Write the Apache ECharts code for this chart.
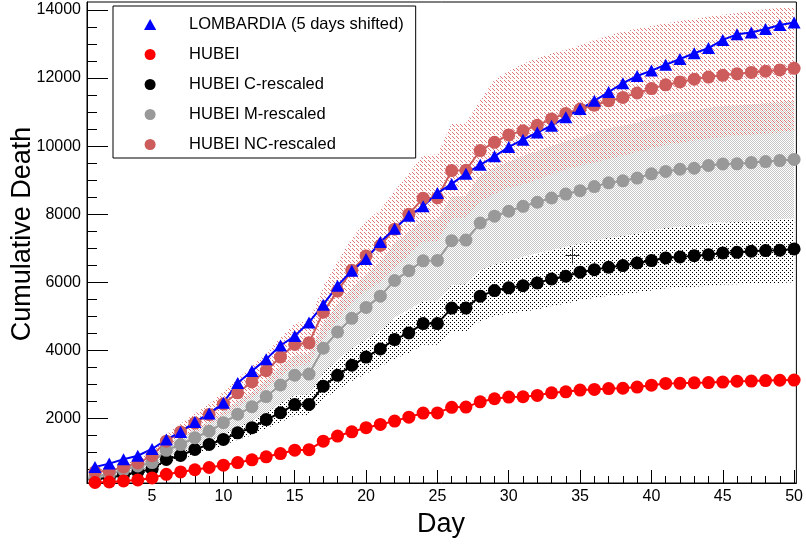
<!DOCTYPE html>
<html><head><meta charset="utf-8">
<script src="https://cdn.jsdelivr.net/npm/echarts@6/dist/echarts.min.js"></script>
<style>html,body{margin:0;padding:0;background:#fff}#chart{width:806px;height:547px}</style>
</head><body><div id="chart"></div>
<script>
const days = [1,2,3,4,5,6,7,8,9,10,11,12,13,14,15,16,17,18,19,20,21,22,23,24,25,26,27,28,29,30,31,32,33,34,35,36,37,38,39,40,41,42,43,44,45,46,47,48,49,50];
const lombardia = [570,670,800,900,1100,1375,1600,1895,2140,2460, 3040,3390,3740,4140,4420,4820,5340,5900,6340,6680, 7180,7570,7950,8230,8620,8890,9190,9450,9700,9975, 10190,10400,10600,10850,11090,11330,11590,11850,12060,12220, 12390,12560,12730,12880,13120,13285,13340,13440,13560,13630];
const hubei = [115,130,160,190,250,355,425,490,555,625, 700,780,870,965,1065,1080,1330,1480,1605,1725, 1820,1920,2035,2155,2160,2325,2330,2485,2575,2625, 2635,2675,2750,2780,2830,2850,2875,2885,2920,2975, 3025,3030,3045,3050,3065,3090,3095,3110,3120,3125];
const hubeiC = [210,255,335,425,505,790,910,1085,1235,1380, 1575,1725,1965,2165,2405,2410,2945,3265,3560,3800, 4040,4315,4510,4785,4785,5240,5240,5590,5755,5835, 5900,5980,6095,6175,6295,6370,6440,6490,6565,6635, 6715,6745,6780,6810,6860,6880,6910,6930,6940,6980];
const hubeiM = [300,350,480,600,700,1060,1230,1430,1620,1870, 2120,2340,2640,2980,3270,3300,4060,4540,4940,5260, 5590,6050,6340,6630,6640,7220,7240,7740,7940,8085, 8230,8350,8475,8590,8690,8810,8920,8980,9060,9185, 9255,9320,9350,9430,9475,9480,9515,9545,9575,9610];
const hubeiNC = [430,450,570,690,900,1330,1600,1860,2110,2420, 2750,3070,3400,3800,4170,4220,5120,5740,6350,6770, 7080,7560,8000,8470,8480,9280,9290,9870,10110,10330, 10450,10610,10800,10960,11090,11200,11330,11430,11560,11690, 11800,11885,11965,12030,12080,12125,12165,12200,12240,12285];

const bandCLow = [180,220,290,370,440,690,790,940,1070,1200, 1370,1500,1710,1880,2090,2100,2560,2840,3100,3310, 3520,3750,3920,4160,4160,4560,4560,4860,5010,5080, 5130,5200,5300,5370,5480,5540,5600,5640,5700,5760, 5820,5840,5870,5890,5930,5940,5960,5970,5980,6000];
const bandCHigh = [240,290,380,480,580,900,1040,1240,1410,1570, 1800,1970,2240,2470,2740,2750,3360,3720,4060,4330, 4610,4920,5140,5450,5450,5970,5970,6370,6560,6650, 6720,6810,6940,7030,7160,7240,7320,7370,7450,7520, 7610,7640,7670,7700,7750,7770,7800,7820,7830,7880];
const bandMLow = [250,290,390,490,570,870,1010,1170,1330,1530, 1740,1920,2160,2440,2680,2710,3330,3720,4050,4310, 4580,4960,5200,5440,5440,5920,5940,6350,6510,6630, 6750,6850,6950,7040,7130,7220,7310,7360,7430,7530, 7590,7640,7670,7730,7770,7770,7800,7830,7850,7880];
const bandMHigh = [350,410,570,710,830,1250,1450,1690,1910,2210, 2500,2760,3120,3520,3860,3890,4790,5360,5830,6210, 6600,7140,7480,7820,7840,8520,8540,9130,9370,9540, 9710,9850,10000,10140,10250,10400,10530,10600,10690,10840, 10920,11000,11030,11130,11180,11190,11230,11260,11300,11340];
const bandNCLow = [370,380,490,590,770,1130,1360,1580,1790,2060, 2340,2610,2890,3230,3540,3590,4350,4880,5400,5750, 6020,6430,6800,7200,7210,7890,7900,8390,8590,8780, 8880,9020,9180,9320,9430,9520,9630,9720,9830,9940, 10030,10100,10170,10230,10270,10310,10340,10370,10400,10440];
const bandNCHigh = [500,520,660,790,1040,1530,1840,2140,2430,2780, 3160,3530,3910,4370,4800,4850,5890,6600,7300,7790, 8140,8690,9200,9740,9750,10670,10680,11350,11950,12200, 12420,12580,12720,12830,12970,13120,13250,13360,13450,13530, 13610,13680,13740,13800,13860,13910,13960,14020,14060,14100];

const crossPoint = [34.45, 6810];

const xMajorTicks = [5,10,15,20,25,30,35,40,45,50];
const yMajorTicks = [2000,4000,6000,8000,10000,12000,14000];
const xMinorTicks = []; for (let d = 1; d <= 50; d++) xMinorTicks.push(d);
const yMinorTicks = []; for (let v = 500; v <= 14000; v += 500) yMinorTicks.push(v);

const names = ['LOMBARDIA (5 days shifted)','HUBEI','HUBEI C-rescaled','HUBEI M-rescaled','HUBEI NC-rescaled'];

const FONT = 'Liberation Sans, Arial, Helvetica, sans-serif';

function makePattern(w, h, color, rects) {
  const c = document.createElement('canvas');
  c.width = w; c.height = h;
  const ctx = c.getContext('2d');
  ctx.fillStyle = color;
  rects.forEach(p => ctx.fillRect(p[0], p[1], p[2] || 1, p[3] || 1));
  return { image: c, repeat: 'repeat' };
}
const patNC = makePattern(4, 4, 'rgb(225,120,120)', [[0,0],[1,1],[2,2]]);
const patM = makePattern(2, 2, 'rgb(200,200,200)', [[0,0],[1,1]]);
const patC = makePattern(4, 4, 'rgb(0,0,0)', [[0,0],[2,2]]);

function bandSeries(lo, hi, pattern) {
  return {
    type: 'custom', xAxisIndex: 0, yAxisIndex: 0, silent: true, z: 1,
    data: [[days[0], lo[0]]],
    renderItem: function (params, api) {
      const pts = [];
      for (let i = 0; i < days.length; i++) pts.push(api.coord([days[i], hi[i]]));
      for (let i = days.length - 1; i >= 0; i--) pts.push(api.coord([days[i], lo[i]]));
      return { type: 'polygon', shape: { points: pts }, style: { fill: pattern, stroke: null } };
    }
  };
}
function pairs(vals) { return days.map((d, i) => [d, vals[i]]); }
function lineSeries(name, vals, color, symbol, size) {
  return {
    name: name, type: 'line', xAxisIndex: 0, yAxisIndex: 0, z: 3,
    data: pairs(vals), symbol: symbol, symbolSize: size, showSymbol: true,
    lineStyle: { color: color, width: 2 },
    itemStyle: { color: color, borderWidth: 0 },
    emphasis: { disabled: true }
  };
}
const TRI = 'path://M5,0L10,9L0,9Z';

const chart = echarts.init(document.getElementById('chart'), null, { renderer: 'canvas' });
const xCommon = { type: 'value', min: 0.44, max: 50.16, position: 'bottom', splitLine: { show: false } };
const yCommon = { type: 'value', min: 100, max: 14235, position: 'left', splitLine: { show: false } };
chart.setOption({
  animation: false,
  backgroundColor: '#ffffff',
  grid: { left: 87, right: 8, top: 2, bottom: 64, show: true, borderColor: '#000', borderWidth: 1, backgroundColor: 'transparent' },
  xAxis: [
    Object.assign({}, xCommon, {
      axisLine: { show: true, lineStyle: { color: '#000', width: 1 } },
      axisTick: { show: true, inside: true, length: 7, customValues: xMinorTicks, lineStyle: { color: '#000' } },
      axisLabel: { show: false }
    }),
    Object.assign({}, xCommon, {
      axisLine: { show: false },
      axisTick: { show: true, inside: true, length: 13, customValues: xMajorTicks, lineStyle: { color: '#000' } },
      axisLabel: { show: true, customValues: xMajorTicks, margin: 6, color: '#000', fontSize: 16, fontFamily: FONT, formatter: v => String(v) }
    })
  ],
  yAxis: [
    Object.assign({}, yCommon, {
      axisLine: { show: true, lineStyle: { color: '#000', width: 1 } },
      axisTick: { show: true, inside: true, length: 10, customValues: yMinorTicks, lineStyle: { color: '#000' } },
      axisLabel: { show: false }
    }),
    Object.assign({}, yCommon, {
      axisLine: { show: false },
      axisTick: { show: true, inside: true, length: 21, customValues: yMajorTicks, lineStyle: { color: '#000' } },
      axisLabel: { show: true, customValues: yMajorTicks, margin: 6, color: '#000', fontSize: 16, fontFamily: FONT, formatter: v => String(v) }
    })
  ],
  legend: {
    orient: 'vertical', left: 113, top: 6,
    padding: [10, 12, 5, 31],
    itemWidth: 68, itemHeight: 11, itemGap: 13,
    symbolKeepAspect: true,
    borderColor: '#000', borderWidth: 1, backgroundColor: '#fff',
    selectedMode: false,
    textStyle: { fontSize: 16.5, fontFamily: FONT, color: '#000' },
    data: [
      { name: names[0], icon: TRI },
      { name: names[1], icon: 'circle' },
      { name: names[2], icon: 'circle' },
      { name: names[3], icon: 'circle' },
      { name: names[4], icon: 'circle' }
    ]
  },
  graphic: [
    { type: 'text', x: 23, y: 234, rotation: Math.PI / 2, style: { text: 'Cumulative Death', font: '27px ' + FONT, fill: '#000', align: 'center', verticalAlign: 'middle' } },
    { type: 'text', x: 441, y: 525, style: { text: 'Day', font: '27px ' + FONT, fill: '#000', align: 'center', verticalAlign: 'middle' } }
  ],
  series: [
    bandSeries(bandCLow, bandCHigh, patC),
    bandSeries(bandMLow, bandMHigh, patM),
    bandSeries(bandNCLow, bandNCHigh, patNC),
    lineSeries(names[2], hubeiC, '#000000', 'circle', 13),
    lineSeries(names[3], hubeiM, '#999999', 'circle', 13),
    lineSeries(names[4], hubeiNC, '#cd5c5c', 'circle', 13),
    lineSeries(names[1], hubei, '#ff0000', 'circle', 13),
    lineSeries(names[0], lombardia, '#0000ff', 'triangle', [13, 12]),
    {
      type: 'custom', xAxisIndex: 0, yAxisIndex: 0, z: 4, silent: true,
      data: [crossPoint],
      renderItem: function (params, api) {
        const p = api.coord([api.value(0), api.value(1)]);
        const cx = Math.round(p[0]) + 0.5, cy = Math.round(p[1]) + 0.5;
        return {
          type: 'path',
          shape: { pathData: 'M0,8L14,8M7,0L7,16', x: cx - 7, y: cy - 8, width: 14, height: 16 },
          style: { stroke: '#333', lineWidth: 1, fill: null }
        };
      }
    }
  ]
});
</script></body></html>
